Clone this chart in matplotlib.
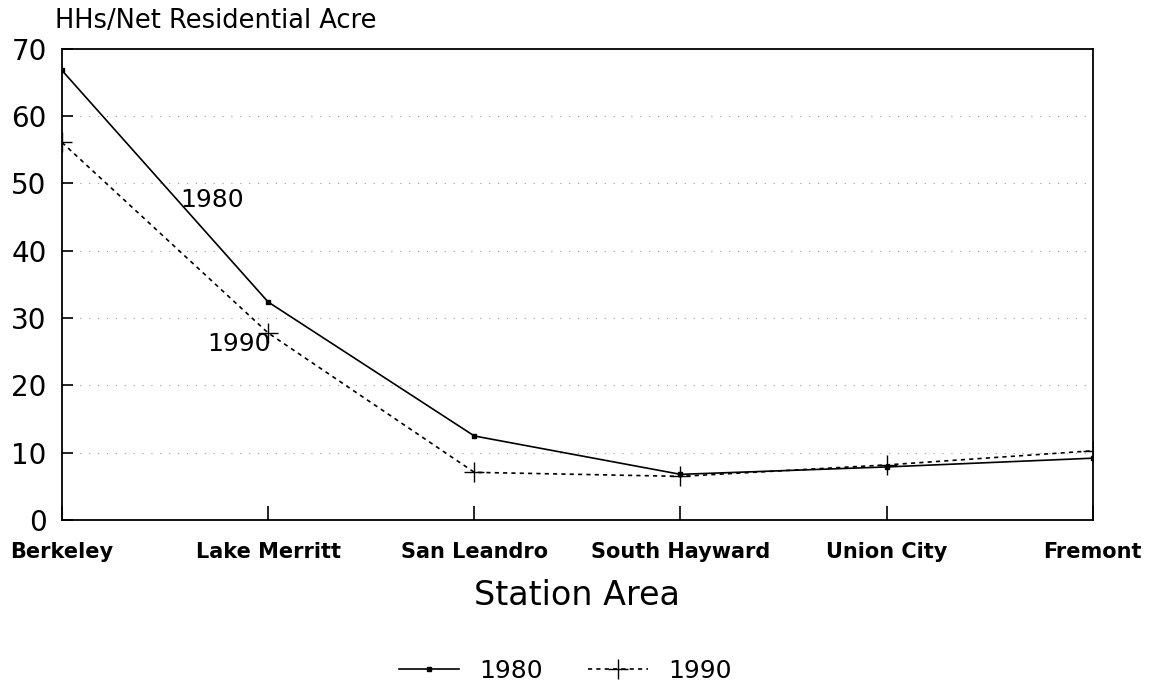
import numpy as np
import matplotlib.pyplot as plt

plt.rcParams['font.family'] = ['DejaVu Sans']

# household density by BART station area
stations = ['Berkeley', 'Lake Merritt', 'San Leandro', 'South Hayward', 'Union City', 'Fremont']
hh_1980 = [66.8, 32.4, 12.5, 6.8, 7.9, 9.2]
hh_1990 = [56.1, 27.8, 7.1, 6.5, 8.2, 10.3]
yticks = [0, 10, 20, 30, 40, 50, 60, 70]

fig = plt.figure(figsize=(11.54, 6.88), dpi=100)
ax = fig.add_axes([0.0537, 0.244, 0.8933, 0.685])

x = np.arange(len(stations))
ax.plot(x, hh_1980, color='black', lw=1.2, marker='s', ms=3, label='1980')
ax.plot(x, hh_1990, color='black', lw=1.2, ls=(0, (2.5, 2.5)), marker='+', ms=14,
        mew=1.0, label='1990')

ax.set_xlim(0, len(stations) - 1)
ax.set_ylim(0, 70)
ax.set_xticks(x)
ax.set_xticklabels(stations, fontsize=15, fontweight='bold')
ax.set_yticks(yticks)
ax.set_yticklabels([str(t) for t in yticks], fontsize=20)
ax.tick_params(axis='x', direction='in', length=10, width=1.2, pad=16)
ax.tick_params(axis='y', direction='in', length=8, width=1.2, pad=11)

# faint dotted gridlines
for t in yticks[1:-1]:
    ax.axhline(t, color='#999999', lw=0.8, ls=(0, (1, 7)), zorder=0)

for s in ax.spines.values():
    s.set_linewidth(1.3)

ax.text(0.73, 47.6, '1980', fontsize=18, ha='center', va='center')
ax.text(0.86, 26.2, '1990', fontsize=18, ha='center', va='center')

fig.text(0.048, 0.97, 'HHs/Net Residential Acre', fontsize=18.5, ha='left', va='center')
fig.text(0.5, 0.135, 'Station Area', fontsize=24, ha='center', va='center')

fig.legend(loc='center', bbox_to_anchor=(0.49, 0.025), ncol=2, frameon=False,
           fontsize=18, handlelength=2.4, columnspacing=1.8)

fig.savefig('out.png', dpi=100)
